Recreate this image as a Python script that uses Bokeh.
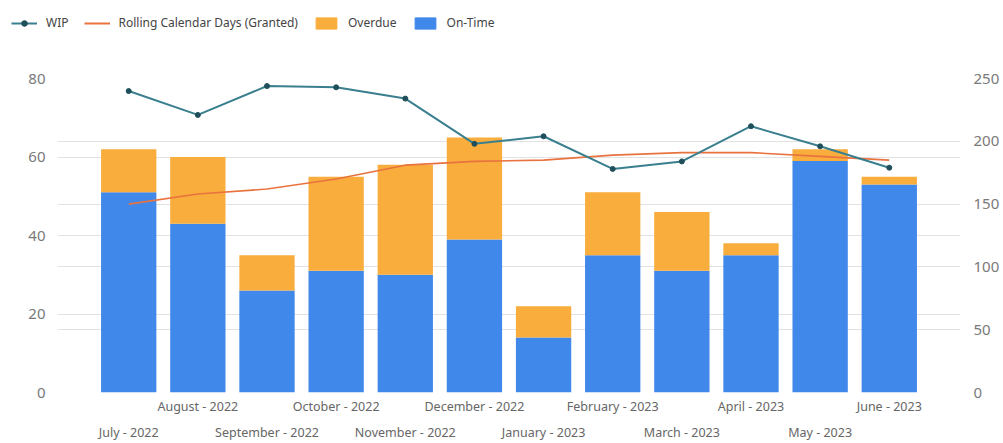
from bokeh.plotting import figure
from bokeh.models import (Range1d, LinearAxis, FixedTicker, Grid, Legend, LegendItem,
                          ColumnDataSource)
from bokeh.embed import file_html
from bokeh.resources import INLINE

months = ["July - 2022", "August - 2022", "September - 2022", "October - 2022",
          "November - 2022", "December - 2022", "January - 2023", "February - 2023",
          "March - 2023", "April - 2023", "May - 2023", "June - 2023"]
on_time = [51, 43, 26, 31, 30, 39, 14, 35, 31, 35, 59, 53]
overdue = [11, 17, 9, 24, 28, 26, 8, 16, 15, 3, 3, 2]
wip = [240, 221, 244, 243, 234, 198, 204, 178, 184, 212, 196, 179]
rolling = [150, 158, 162, 170, 181, 184, 185, 189, 191, 191, 188, 185]
left_ticks = [0, 20, 40, 60, 80]
right_ticks = [0, 50, 100, 150, 200, 250]

FONT = "Noto Sans"
BLUE = "#4088ea"
ORANGE = "#f9ad3c"
TEAL = "#3a7f8e"
DOT = "#1f4f5a"
RED = "#e8733f"
GRID = "#e2e2e2"

LEG_H = 44

xs = list(range(len(months)))
src = ColumnDataSource(dict(x=xs, on_time=on_time, overdue=overdue, wip=wip, rolling=rolling))

p = figure(width=1003, height=443 - LEG_H, output_backend="svg", toolbar_location=None,
           x_range=Range1d(-1.03, len(months) - 1 + 1.03), y_range=Range1d(0, 80),
           min_border_left=57, min_border_right=43, min_border_top=78 - LEG_H,
           min_border_bottom=51, x_axis_location=None)
p.outline_line_color = None
p.extra_y_ranges = {"right": Range1d(0, 250)}
p.xgrid.visible = False


def style_axis(ax, size, color, standoff):
    ax.axis_line_color = None
    ax.major_tick_line_color = None
    ax.minor_tick_line_color = None
    ax.major_tick_out = 0
    ax.major_tick_in = 0
    ax.minor_tick_out = 0
    ax.major_label_text_color = color
    ax.major_label_text_font = FONT
    ax.major_label_text_font_size = size
    ax.major_label_standoff = standoff


yl = p.yaxis[0]
yl.ticker = FixedTicker(ticks=left_ticks)
style_axis(yl, "15px", "#7a7a7a", 12)
p.ygrid.ticker = FixedTicker(ticks=left_ticks)
p.ygrid.grid_line_color = GRID

yr = LinearAxis(y_range_name="right", ticker=FixedTicker(ticks=right_ticks))
style_axis(yr, "15px", "#7a7a7a", 13)
p.add_layout(yr, "right")
p.add_layout(Grid(dimension=1, ticker=FixedTicker(ticks=right_ticks), y_range_name="right",
                  grid_line_color=GRID))

# staggered category labels
upper = [i for i in xs if i % 2 == 1]
lower = [i for i in xs if i % 2 == 0]
ax_top = LinearAxis(ticker=FixedTicker(ticks=upper),
                    major_label_overrides={i: months[i] for i in upper})
ax_bot = LinearAxis(ticker=FixedTicker(ticks=lower),
                    major_label_overrides={i: months[i] for i in lower})
style_axis(ax_top, "12.5px", "#666666", 5)
style_axis(ax_bot, "12.5px", "#666666", 6)
p.add_layout(ax_top, "below")
p.add_layout(ax_bot, "below")

bars = p.vbar_stack(["on_time", "overdue"], x="x", width=0.8, source=src,
                    color=[BLUE, ORANGE], line_color=None)
p.line("x", "rolling", source=src, y_range_name="right", line_color=RED, line_width=1.6)
p.line("x", "wip", source=src, y_range_name="right", line_color=TEAL, line_width=2)
p.scatter("x", "wip", source=src, y_range_name="right", size=5, color=DOT)

# legend strip (separate root so that its frame is not aligned with the chart's)
lg = figure(width=1003, height=LEG_H, output_backend="svg", toolbar_location=None,
            x_range=Range1d(0, 1), y_range=Range1d(0, 1),
            x_axis_location=None, y_axis_location=None,
            min_border=0, min_border_left=0, min_border_right=0,
            min_border_top=0, min_border_bottom=0)
lg.outline_line_color = None
lg.grid.visible = False
nan = float("nan")
e = lambda: ColumnDataSource(dict(x=[nan], y=[nan]))
r_wl = lg.line(x="x", y="y", source=e(), line_color=TEAL, line_width=2)
r_ws = lg.scatter(x="x", y="y", source=e(), size=5, color=DOT)
r_rl = lg.line(x="x", y="y", source=e(), line_color=RED, line_width=2)
r_ov = lg.vbar(x="x", top="y", width=1, source=e(), color=ORANGE)
r_on = lg.vbar(x="x", top="y", width=1, source=e(), color=BLUE)

legend = Legend(items=[
    LegendItem(label="WIP", renderers=[r_wl, r_ws]),
    LegendItem(label="Rolling Calendar Days (Granted)", renderers=[r_rl]),
    LegendItem(label="Overdue", renderers=[r_ov]),
    LegendItem(label="On-Time", renderers=[r_on]),
], orientation="horizontal", location=(11, 13))
legend.label_text_font = FONT
legend.label_text_font_size = "12px"
legend.label_text_color = "#444444"
legend.glyph_width = 26
legend.glyph_height = 14
legend.spacing = 15
legend.label_standoff = 9
legend.padding = 0
legend.margin = 0
legend.border_line_color = None
legend.background_fill_alpha = 0
lg.add_layout(legend)

open("out.html", "w").write(file_html([lg, p], INLINE))
